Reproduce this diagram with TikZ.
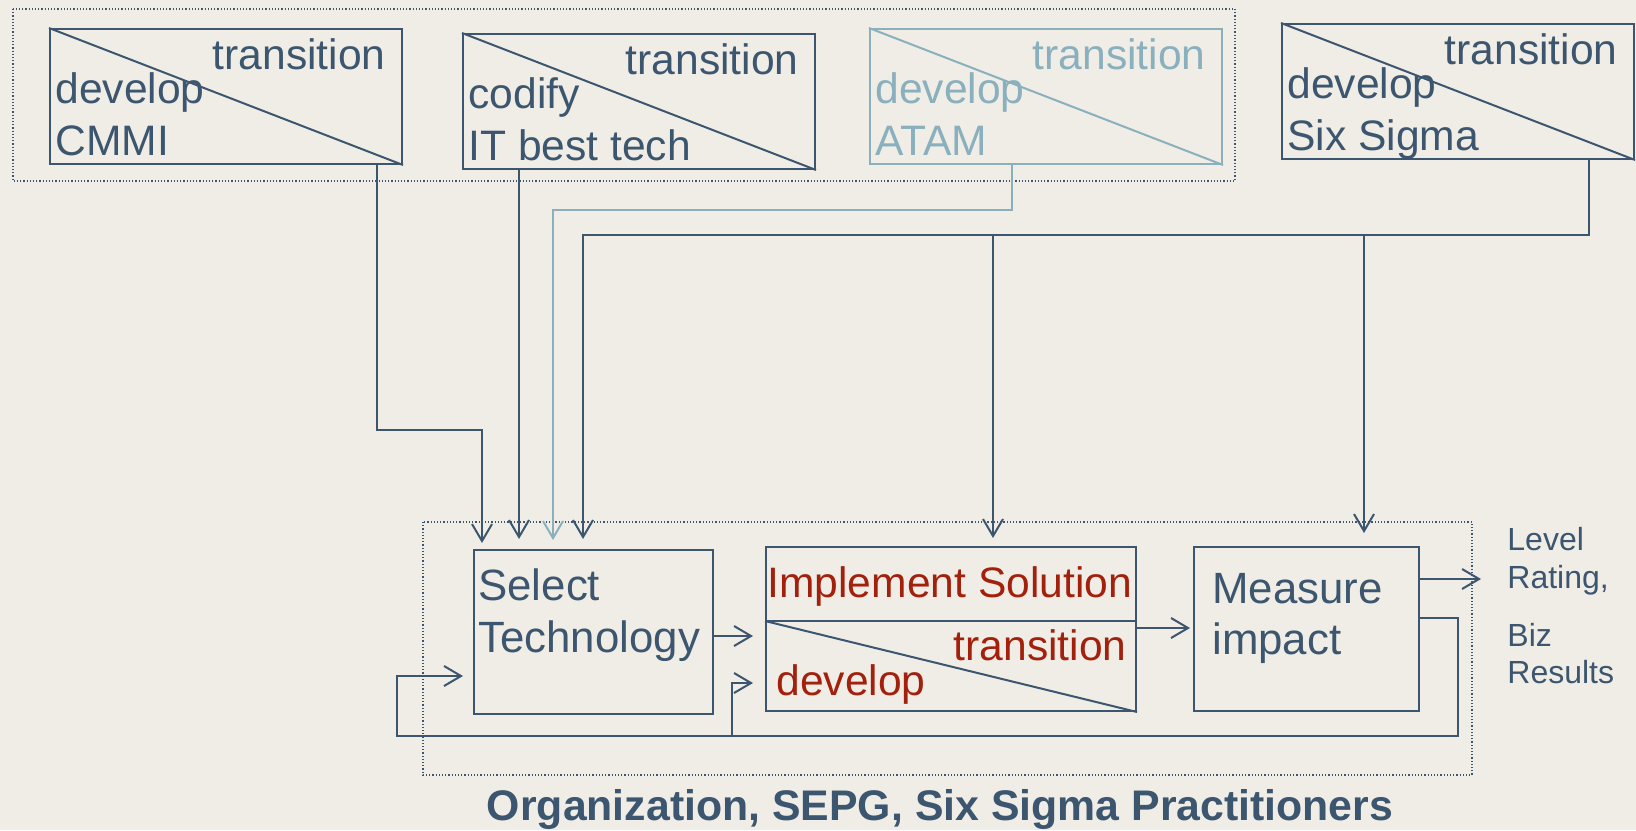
\documentclass[tikz,border=0pt]{standalone}
\usepackage{fontspec}
\setmainfont{Liberation Sans}
\usetikzlibrary{arrows.meta}
\definecolor{slate}{HTML}{3C566F}
\definecolor{paleblue}{HTML}{8AB0BE}
\definecolor{brick}{HTML}{A2200C}
\definecolor{paper}{HTML}{F0EDE6}

\begin{document}
\begin{tikzpicture}[x=0.5pt,y=-0.5pt,
    box/.style={draw,line width=1pt,inner sep=0pt,anchor=north west},
    txt/.style={inner sep=0pt,font=\fontsize{21.3}{25}\selectfont},
    big/.style={inner sep=0pt,font=\fontsize{21.9}{26}\selectfont},
    small/.style={inner sep=0pt,text=slate,anchor=base west,font=\fontsize{16}{19}\selectfont},
    conn/.style={line width=1pt,draw=slate,-{Straight Barb[length=8.5pt,width=10pt]}},
    frame/.style={draw=slate,densely dotted,line width=0.6pt}]

        % Background
        \fill[paper] (0,0) rectangle (1636,830);
        \useasboundingbox (0,0) rectangle (1636,830);

        % Dotted groups
        \draw[frame] (13,9) rectangle (1235,181);
        \draw[frame] (423,522) rectangle (1472,775);

        % Source boxes (develop / transition)
        \foreach \nm/\x/\y/\col/\lineA/\lineB in {cmmi/49/28/slate/develop/CMMI,
            itbt/462/33/slate/codify/IT best tech,
            atam/869/28/paleblue/develop/ATAM,
            sixs/1281/23/slate/develop/Six Sigma}{
            \node[box,draw=\col,minimum width=176pt,minimum height=67.5pt] (\nm) at (\x,\y) {};
            \draw[\col,line width=1pt] (\nm.north west) -- (\nm.south east);
            \node[txt,text=\col,anchor=base east] (\nm-tr) at (\x+337,\y+41) {transition};
            \node[txt,text=\col,anchor=base west] (\nm-a) at (\x+6,\y+75) {\lineA};
            \node[txt,text=\col,anchor=base west] (\nm-b) at (\x+6,\y+127) {\lineB};
        }

        % Select technology
        \node[box,draw=slate,minimum width=119.5pt,minimum height=82pt] (select) at (473,549) {};
        \node[big,text=slate,anchor=base west] (select-a) at (478,600) {Select};
        \node[big,text=slate,anchor=base west] (select-b) at (478,652) {Technology};

        % Implement solution
        \node[box,draw=slate,minimum width=185pt,minimum height=82pt] (impl) at (765,546) {};
        \coordinate (divl) at (765,621);
        \coordinate (divr) at (1135,621);
        \draw[slate,line width=1pt] (divl) -- (divr);
        \draw[slate,line width=1pt] (divl) -- (impl.south east);
        \node[txt,text=brick,anchor=base west] (impl-a) at (767,597) {Implement Solution};
        \node[txt,text=brick,anchor=base east] (impl-tr) at (1127,660) {transition};
        \node[txt,text=brick,anchor=base west] (impl-dv) at (776,695) {develop};

        % Measure impact
        \node[box,draw=slate,minimum width=112.5pt,minimum height=82pt] (measure) at (1193,546) {};
        \node[big,text=slate,anchor=base west] (measure-a) at (1212,603) {Measure};
        \node[big,text=slate,anchor=base west] (measure-b) at (1212,654) {impact};

        % Results
        \node[small] (lvl) at (1507,550) {Level};
        \node[small] (rat) at (1507,588) {Rating,};
        \node[small] (biz) at (1507,646) {Biz};
        \node[small] (res) at (1507,683) {Results};

        % Title
        \node[inner sep=0pt,text=slate,anchor=base,font=\bfseries\fontsize{21.4}{25}\selectfont] (title) at (940,820)
            {Organization, SEPG, Six Sigma Practitioners};

        % Inputs from the source boxes
        \coordinate (kneeA) at (377,430);
        \coordinate (kneeB) at (482,430);
        \draw[conn,shorten >=3pt] (cmmi.south -| kneeA) -- (kneeA) -- (kneeB) -- (select.north -| kneeB);

        \coordinate (itcol) at (519,0);
        \draw[conn,shorten >=5pt] (itbt.south -| itcol) -- (select.north -| itcol);

        \coordinate (paleR) at (1011.5,210);
        \coordinate (paleL) at (553,210);
        \draw[conn,draw=paleblue,shorten >=4.5pt] (atam.south -| paleR) -- (paleR) -- (paleL) -- (select.north -| paleL);

        \coordinate (busR) at (1589,235);
        \coordinate (busM) at (1364,235);
        \coordinate (busN) at (993,235);
        \coordinate (busL) at (583,235);
        \draw[conn,shorten >=5pt] (sixs.south -| busR) -- (busR) -- (busL) -- (select.north -| busL);
        \draw[conn,shorten >=4pt] (busN) -- (impl.north -| busN);
        \draw[conn,shorten >=6.5pt] (busM) -- (measure.north -| busM);

        % Flow between the steps
        \coordinate (rowA) at (0,636);
        \coordinate (rowB) at (0,628);
        \coordinate (out) at (1481,579);
        \draw[conn,shorten >=6pt] (select.east |- rowA) -- (impl.west |- rowA);
        \draw[conn,shorten >=1.5pt] (impl.east |- rowB) -- (measure.west |- rowB);
        \draw[conn] (measure.east |- out) -- (out);

        % Feedback loop
        \coordinate (fbA) at (1458,618);
        \coordinate (fbB) at (1458,736);
        \coordinate (fbC) at (397,736);
        \coordinate (fbD) at (397,676);
        \coordinate (fbE) at (732,736);
        \coordinate (fbF) at (732,683);
        \draw[conn,shorten >=5pt] (measure.east |- fbA) -- (fbA) -- (fbB) -- (fbC) -- (fbD) -- (select.west |- fbD);
        \draw[conn,shorten >=6pt] (fbE) -- (fbF) -- (impl.west |- fbF);

\end{tikzpicture}
\end{document}
